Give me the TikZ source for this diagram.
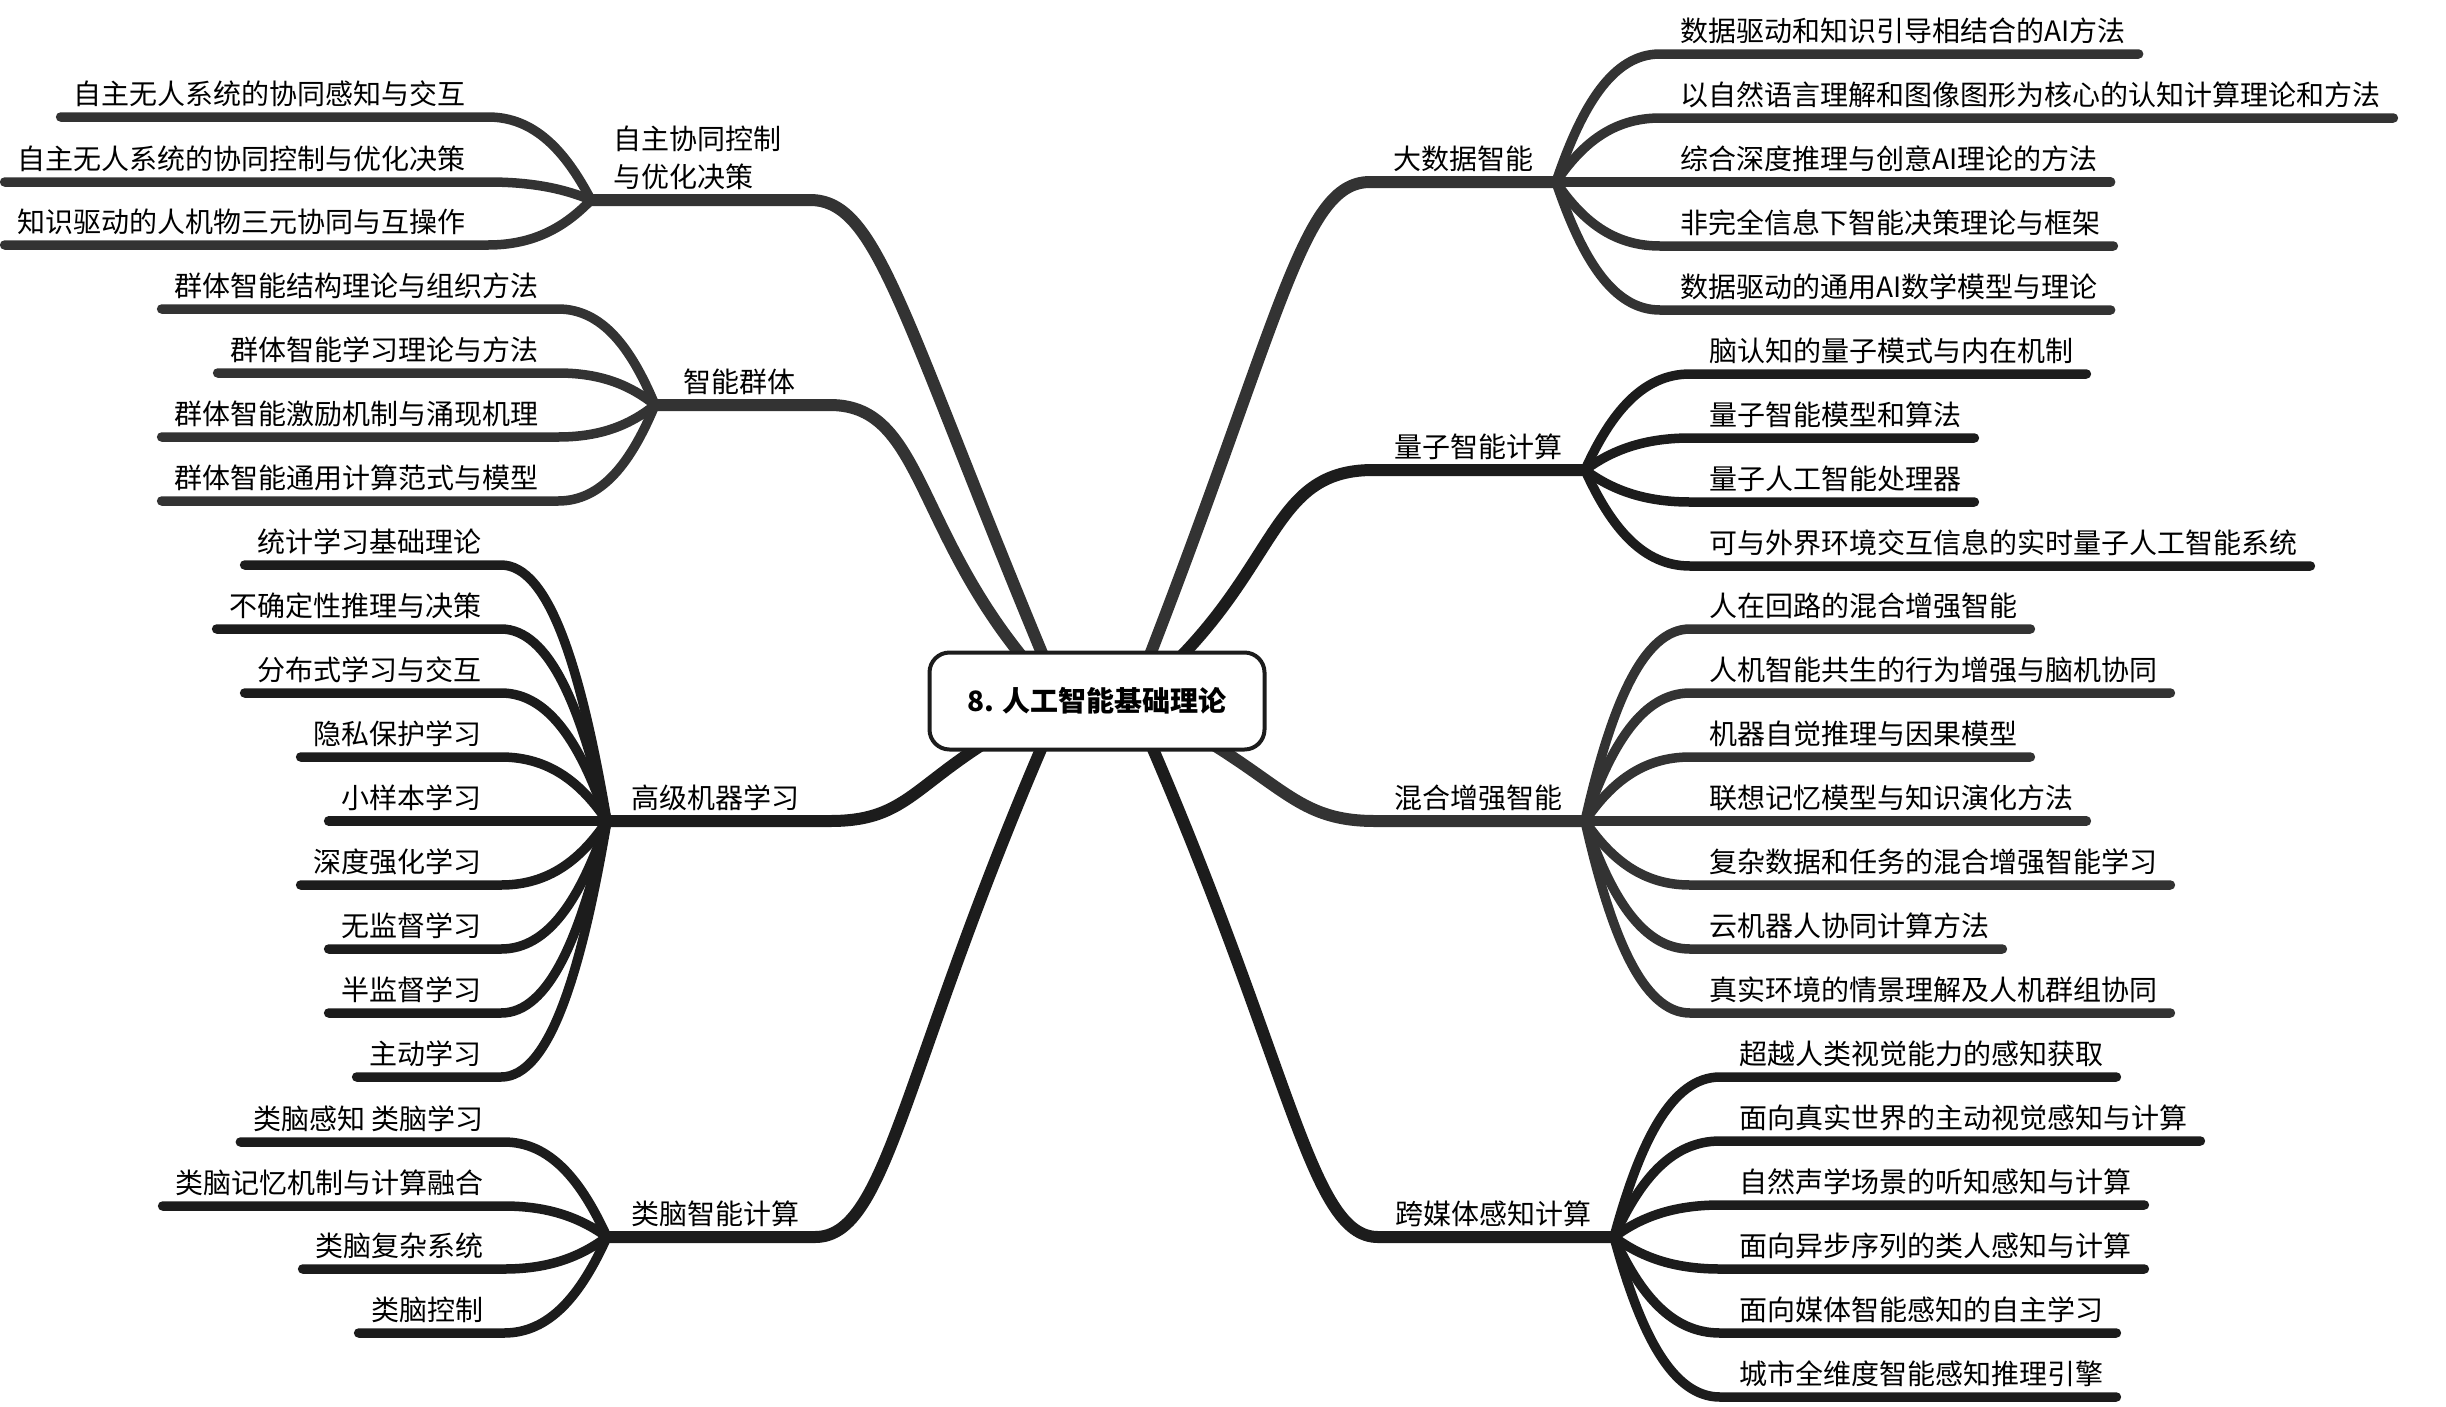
\documentclass[tikz,border=0pt]{standalone}
\usepackage{fontspec}
\setmainfont{Noto Sans CJK SC}
\definecolor{inkA}{HTML}{333333}
\definecolor{inkB}{HTML}{1C1C1C}

\begin{document}
\begin{tikzpicture}[x=1pt, y=-1pt,
	limb/.style={line width=12pt, line cap=round},
	twig/.style={line width=9.5pt, line cap=round},
	topic/.style={inner sep=0pt, font=\fontsize{28}{38}\selectfont},
	leaf/.style={inner sep=0pt, font=\fontsize{28}{34}\selectfont},
	root/.style={draw=inkB, line width=4pt, fill=white, rounded corners=20pt, minimum width=335pt, minimum height=97pt, font=\bfseries\fontsize{28}{34}\selectfont}]
			\useasboundingbox (0,0) rectangle (2446,1406);
			\coordinate (ctrL) at (1062,701);
			\coordinate (ctrR) at (1132,701);
			
			% Ramo destro: 大数据智能
			\coordinate (bd) at (1556,182);
			\draw[limb, inkA] (ctrR) .. controls +(150,-380) and +(-70,0) .. (1370,182) -- (bd);
			\node[topic, anchor=base east] (bd-t) at ([shift={(-22,-13)}]bd) {大数据智能};
			\foreach \y/\t [count=\i] in {54/数据驱动和知识引导相结合的AI方法, 118/以自然语言理解和图像图形为核心的认知计算理论和方法, 182/综合深度推理与创意AI理论的方法, 246/非完全信息下智能决策理论与框架, 310/数据驱动的通用AI数学模型与理论} {
				\node[leaf, anchor=base west] (bd-\i) at (1680,\y-13) {\t};
				\draw[twig, inkA] (bd) .. controls +(26,{0.6*(\y-182)}) and +(-47,0) .. (1660,\y) -- ([shift={(13,13)}]bd-\i.base east);
			}
			
			% Ramo destro: 量子智能计算
			\coordinate (lz) at (1585,470);
			\draw[limb, inkB] (ctrR) .. controls +(150,-120) and +(-110,0) .. (1373,470) -- (lz);
			\node[topic, anchor=base east] (lz-t) at ([shift={(-22,-13)}]lz) {量子智能计算};
			\foreach \y/\t [count=\i] in {374/脑认知的量子模式与内在机制, 438/量子智能模型和算法, 502/量子人工智能处理器, 566/可与外界环境交互信息的实时量子人工智能系统} {
				\node[leaf, anchor=base west] (lz-\i) at (1709,\y-13) {\t};
				\draw[twig, inkB] (lz) .. controls +(26,{0.6*(\y-470)}) and +(-47,0) .. (1690,\y) -- ([shift={(13,13)}]lz-\i.base east);
			}
			
			% Ramo destro: 混合增强智能
			\coordinate (hh) at (1585,821);
			\draw[limb, inkA] (ctrR) .. controls +(150,70) and +(-90,0) .. (1375,821) -- (hh);
			\node[topic, anchor=base east] (hh-t) at ([shift={(-22,-13)}]hh) {混合增强智能};
			\foreach \y/\t [count=\i] in {629/人在回路的混合增强智能, 693/人机智能共生的行为增强与脑机协同, 757/机器自觉推理与因果模型, 821/联想记忆模型与知识演化方法, 885/复杂数据和任务的混合增强智能学习, 949/云机器人协同计算方法, 1013/真实环境的情景理解及人机群组协同} {
				\node[leaf, anchor=base west] (hh-\i) at (1709,\y-13) {\t};
				\draw[twig, inkA] (hh) .. controls +(26,{0.6*(\y-821)}) and +(-47,0) .. (1690,\y) -- ([shift={(13,13)}]hh-\i.base east);
			}
			
			% Ramo destro: 跨媒体感知计算
			\coordinate (km) at (1614,1237);
			\draw[limb, inkB] (ctrR) .. controls +(160,360) and +(-70,0) .. (1378,1237) -- (km);
			\node[topic, anchor=base east] (km-t) at ([shift={(-22,-13)}]km) {跨媒体感知计算};
			\foreach \y/\t [count=\i] in {1077/超越人类视觉能力的感知获取, 1141/面向真实世界的主动视觉感知与计算, 1205/自然声学场景的听知感知与计算, 1269/面向异步序列的类人感知与计算, 1333/面向媒体智能感知的自主学习, 1397/城市全维度智能感知推理引擎} {
				\node[leaf, anchor=base west] (km-\i) at (1739,\y-13) {\t};
				\draw[twig, inkB] (km) .. controls +(26,{0.6*(\y-1237)}) and +(-48,0) .. (1720,\y) -- ([shift={(13,13)}]km-\i.base east);
			}
			
			% Ramo sinistro: 自主协同控制与优化决策
			\coordinate (zz) at (591,200);
			\draw[limb, inkA] (ctrL) .. controls +(-160,-380) and +(70,0) .. (810,200) -- (zz);
			\node[topic, anchor=south west, align=left] (zz-t) at ([shift={(22,-10)}]zz) {自主协同控制\\与优化决策};
			\foreach \y/\t [count=\i] in {117/自主无人系统的协同感知与交互, 182/自主无人系统的协同控制与优化决策, 245/知识驱动的人机物三元协同与互操作} {
				\node[leaf, anchor=base east] (zz-\i) at (466,\y-13) {\t};
				\draw[twig, inkA] (zz) .. controls +(-26,{0.6*(\y-200)}) and +(46,0) .. (488,\y) -- ([shift={(-13,13)}]zz-\i.base west);
			}
			
			% Ramo sinistro: 智能群体
			\coordinate (qt) at (655,405);
			\draw[limb, inkA] (ctrL) .. controls +(-150,-150) and +(100,0) .. (830,405) -- (qt);
			\node[topic, anchor=base west] (qt-t) at ([shift={(28,-13)}]qt) {智能群体};
			\foreach \y/\t [count=\i] in {309/群体智能结构理论与组织方法, 373/群体智能学习理论与方法, 437/群体智能激励机制与涌现机理, 501/群体智能通用计算范式与模型} {
				\node[leaf, anchor=base east] (qt-\i) at (539,\y-13) {\t};
				\draw[twig, inkA] (qt) .. controls +(-24,{0.6*(\y-405)}) and +(44,0) .. (558,\y) -- ([shift={(-13,13)}]qt-\i.base west);
			}
			
			% Ramo sinistro: 高级机器学习
			\coordinate (jq) at (607,821);
			\draw[limb, inkB] (ctrL) .. controls +(-150,70) and +(90,0) .. (830,821) -- (jq);
			\node[topic, anchor=base west] (jq-t) at ([shift={(24,-13)}]jq) {高级机器学习};
			\foreach \y/\t [count=\i] in {565/统计学习基础理论, 629/不确定性推理与决策, 693/分布式学习与交互, 757/隐私保护学习, 821/小样本学习, 885/深度强化学习, 949/无监督学习, 1013/半监督学习, 1077/主动学习} {
				\node[leaf, anchor=base east] (jq-\i) at (482,\y-13) {\t};
				\draw[twig, inkB] (jq) .. controls +(-26,{0.6*(\y-821)}) and +(48,0) .. (501,\y) -- ([shift={(-13,13)}]jq-\i.base west);
			}
			
			% Ramo sinistro: 类脑智能计算
			\coordinate (ln) at (607,1237);
			\draw[limb, inkB] (ctrL) .. controls +(-160,360) and +(75,0) .. (815,1237) -- (ln);
			\node[topic, anchor=base west] (ln-t) at ([shift={(24,-13)}]ln) {类脑智能计算};
			\foreach \y/\t [count=\i] in {1142/类脑感知 类脑学习, 1206/类脑记忆机制与计算融合, 1269/类脑复杂系统, 1333/类脑控制} {
				\node[leaf, anchor=base east] (ln-\i) at (484,\y-13) {\t};
				\draw[twig, inkB] (ln) .. controls +(-26,{0.6*(\y-1237)}) and +(46,0) .. (504,\y) -- ([shift={(-13,13)}]ln-\i.base west);
			}
			
			% Nodo centrale
			\node[root] (ctr) at (1097,701) {8. 人工智能基础理论};
		\end{tikzpicture}
\end{document}
